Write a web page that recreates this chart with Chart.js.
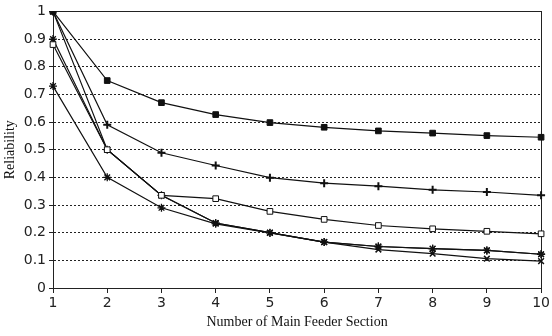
<!DOCTYPE html>
<html>
<head>
<meta charset="utf-8">
<script src="https://cdn.jsdelivr.net/npm/chart.js@4/dist/chart.umd.min.js"></script>
<style>
  html, body { margin: 0; padding: 0; background: #fff; }
  #wrap { width: 552px; height: 336px; }
</style>
</head>
<body>
<div id="wrap"><canvas id="c" width="552" height="336"></canvas></div>
<script>
// ---- data ----
const categories = ['1', '2', '3', '4', '5', '6', '7', '8', '9', '10'];
const filledSquare = [1.0, 0.75, 0.67, 0.627, 0.598, 0.581, 0.568, 0.56, 0.551, 0.545];
const plusSeries   = [1.0, 0.59, 0.489, 0.443, 0.399, 0.379, 0.368, 0.355, 0.347, 0.335];
const openSquare   = [0.88, 0.5, 0.335, 0.323, 0.277, 0.248, 0.226, 0.214, 0.205, 0.196];
const crossSeries  = [1.0, 0.5, 0.335, 0.235, 0.2, 0.166, 0.139, 0.124, 0.106, 0.097];
const asteriskA    = [0.9, 0.5, 0.335, 0.235, 0.2, 0.166, 0.15, 0.142, 0.136, 0.122];
const asteriskB    = [0.73, 0.4, 0.29, 0.232, 0.199, 0.166, 0.15, 0.142, 0.136, 0.122];
const yTickLabels = ['0', '0.1', '0.2', '0.3', '0.4', '0.5', '0.6', '0.7', '0.8', '0.9', '1'];

function ds(data, style, radius, fill, bw) {
  return {
    data: data,
    borderColor: '#111',
    borderWidth: 1.2,
    pointStyle: style,
    pointRadius: radius,
    pointBorderColor: '#111',
    pointBackgroundColor: fill,
    pointBorderWidth: bw,
    tension: 0,
    fill: false
  };
}

const frame = {
  id: 'frame',
  beforeDatasetsDraw(chart) {
    const a = chart.chartArea, ctx = chart.ctx;
    ctx.save();
    ctx.strokeStyle = '#222';
    ctx.lineWidth = 1;
    ctx.strokeRect(Math.round(a.left) + 0.5, Math.round(a.top) + 0.5,
                   Math.round(a.right - a.left), Math.round(a.bottom - a.top));
    ctx.restore();
  }
};

new Chart(document.getElementById('c'), {
  type: 'line',
  data: {
    labels: categories,
    datasets: [
      ds(filledSquare, 'rect', 4, '#111', 1),
      ds(plusSeries, 'cross', 4, '#111', 2),
      ds(openSquare, 'rect', 4, '#fff', 1),
      ds(crossSeries, 'crossRot', 4, '#111', 1.5),
      ds(asteriskA, 'star', 4, '#111', 1.3),
      ds(asteriskB, 'star', 4, '#111', 1.3)
    ]
  },
  options: {
    responsive: false,
    animation: false,
    devicePixelRatio: 1,
    layout: { padding: { top: 11, right: 9, left: 0, bottom: 0 } },
    plugins: { legend: { display: false }, tooltip: { enabled: false } },
    scales: {
      x: {
        type: 'category',
        offset: false,
        afterFit(s) { s.height = 48; },
        grid: { drawOnChartArea: false, drawTicks: true, tickLength: 5, color: '#222' },
        border: { display: true, color: '#222', width: 1 },
        ticks: { color: '#222', font: { family: 'DejaVu Sans', size: 14 }, padding: 2, maxRotation: 0 },
        title: {
          display: true,
          text: 'Number of Main Feeder Section',
          color: '#111',
          font: { family: 'Liberation Serif', size: 14 },
          padding: { top: 0, bottom: 5 }
        }
      },
      y: {
        min: 0, max: 1,
        afterFit(s) { s.width = 53; },
        afterBuildTicks(s) {
          s.ticks = yTickLabels.map((t) => ({ value: Number(t) }));
        },
        grid: {
          color(ctx) { return (ctx.tick && (ctx.tick.value === 1 || ctx.tick.value === 0)) ? 'rgba(0,0,0,0)' : '#222'; },
          tickColor: '#222',
          lineWidth: 1,
          tickLength: 4,
          tickBorderDash: []
        },
        border: { display: true, color: '#222', width: 1, dash: [2, 2] },
        ticks: {
          color: '#222',
          font: { family: 'DejaVu Sans', size: 14 },
          padding: 3,
          callback(v, i) { return yTickLabels[i]; }
        },
        title: {
          display: true,
          text: 'Reliability',
          color: '#111',
          font: { family: 'Liberation Serif', size: 14 },
          padding: { top: 2, bottom: 0 }
        }
      }
    }
  },
  plugins: [frame]
});
</script>
</body>
</html>
